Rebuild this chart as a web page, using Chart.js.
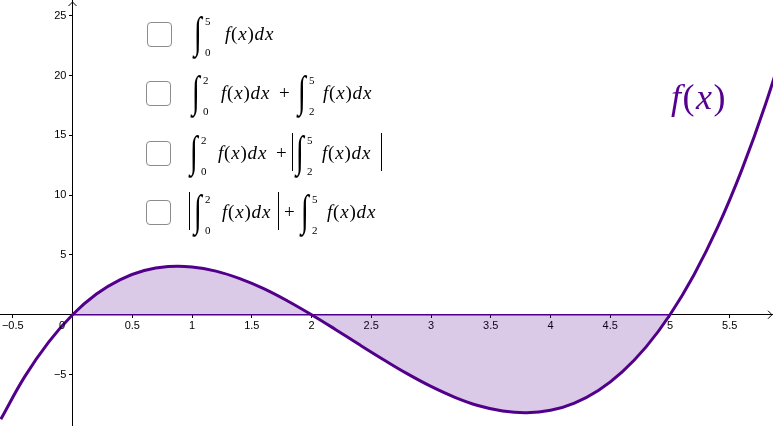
<!DOCTYPE html>
<html><head><meta charset="utf-8">
<script src="https://cdn.jsdelivr.net/npm/chart.js@4/dist/chart.umd.min.js"></script>
<style>
html,body{margin:0;padding:0;background:#fff;}
#wrap{position:relative;width:773px;height:426px;overflow:hidden;}
canvas{position:absolute;left:0;top:0;}
.cb{position:absolute;width:23px;height:23px;border:1.5px solid #8c8c8c;border-radius:4px;background:#fff;box-sizing:content-box;}
.p{position:absolute;font-family:"Liberation Serif",serif;color:#000;white-space:nowrap;line-height:1;}
.txt{font-size:19px;letter-spacing:0.8px;}
.int{font-size:30px;transform:scale(0.95,1.45);transform-origin:left center;font-style:italic;}
.lim{font-size:11px;}
.bar{position:absolute;width:0;border-left:1px solid #000;height:38px;}
.zero{position:absolute;font:11px "Liberation Sans",sans-serif;color:#000;}
.fx{position:absolute;font-family:"Liberation Serif",serif;font-size:36px;letter-spacing:1.5px;color:#55008f;white-space:nowrap;}
</style></head>
<body>
<div id="wrap">
<canvas id="c" width="773" height="426"></canvas>
<div class="zero" style="left:59px;top:319px;">0</div>
<div class="fx" style="left:671px;top:76px;"><i>f</i>(<i>x</i>)</div>
</div>
<script>
const xValues = [-0.6, -0.4, -0.2, 0, 0.2, 0.4, 0.6, 0.8, 1.0, 1.2, 1.4, 1.6, 1.8, 2.0, 2.2, 2.4, 2.6, 2.8, 3.0, 3.2, 3.4, 3.6, 3.8, 4.0, 4.2, 4.4, 4.6, 4.8, 5.0, 5.2, 5.4, 5.6, 5.8, 6.0];
const fValues = [-8.74, -5.18, -2.29, 0, 1.73, 2.94, 3.70, 4.03, 4.0, 3.65, 3.02, 2.18, 1.15, 0, -1.23, -2.50, -3.74, -4.93, -6.0, -6.91, -7.62, -8.06, -8.21, -8.0, -7.39, -6.34, -4.78, -2.69, 0, 3.33, 7.34, 12.10, 17.63, 24.0];
const shadeFrom = 0, shadeTo = 5;
const xTickStep = 0.5, yTickStep = 5;
const xRange = [-0.607, 5.862];
const yRange = [-9.31, 26.33];

const curveColor = 'rgb(82,0,140)';
const shadeColor = 'rgba(82,0,140,0.21)';

const curvePts = xValues.map((x, i) => ({x, y: fValues[i]}));
const shadePts = curvePts.filter(p => p.x >= shadeFrom && p.x <= shadeTo);
const basePts = [{x: shadeFrom, y: 0}, {x: shadeTo, y: 0}];

const fmt = v => {
  if (Math.abs(v) < 1e-9) return '';
  const s = String(Math.round(v * 100) / 100);
  return v < 0 ? '\u2212' + s.slice(1) : s;
};

const arrows = {
  id: 'arrows',
  afterDraw(chart) {
    const {ctx, scales: {x, y}} = chart;
    const x0 = x.getPixelForValue(0), y0 = y.getPixelForValue(0);
    ctx.save();
    ctx.strokeStyle = '#000'; ctx.lineWidth = 1;
    ctx.beginPath();
    ctx.moveTo(x.right - 5, y0 - 4); ctx.lineTo(x.right - 1, y0); ctx.lineTo(x.right - 5, y0 + 4);
    ctx.moveTo(x0 - 4, y.top + 6); ctx.lineTo(x0, y.top + 2); ctx.lineTo(x0 + 4, y.top + 6);
    ctx.stroke();
    ctx.restore();
  }
};

const noPad = scale => { scale.paddingTop = 0; scale.paddingBottom = 0; scale.paddingLeft = 0; scale.paddingRight = 0; };

new Chart(document.getElementById('c'), {
  type: 'scatter',
  data: {
    datasets: [
      {data: shadePts, showLine: true, fill: 'origin', backgroundColor: shadeColor, borderWidth: 0, pointRadius: 0, tension: 0.4, order: 3},
      {data: basePts, showLine: true, borderColor: curveColor, borderWidth: 1.5, pointRadius: 0, order: 2},
      {data: curvePts, showLine: true, borderColor: curveColor, borderWidth: 3, pointRadius: 0, tension: 0.4, order: 1}
    ]
  },
  options: {
    responsive: false, animation: false,
    layout: {padding: 0},
    plugins: {legend: {display: false}, tooltip: {enabled: false}},
    scales: {
      x: {
        type: 'linear', min: xRange[0], max: xRange[1], position: {y: 0},
        afterFit: noPad,
        border: {color: '#000', width: 1},
        grid: {drawOnChartArea: false, drawTicks: true, tickLength: 3, color: '#000'},
        ticks: {stepSize: xTickStep, includeBounds: false, autoSkip: false, maxRotation: 0, padding: 2, color: '#000', font: {family: 'Liberation Sans', size: 11}, callback: fmt}
      },
      y: {
        type: 'linear', min: yRange[0], max: yRange[1], position: {x: 0},
        afterFit: noPad,
        border: {color: '#000', width: 1},
        grid: {drawOnChartArea: false, drawTicks: true, tickLength: 3, color: '#000'},
        ticks: {stepSize: yTickStep, includeBounds: false, autoSkip: false, padding: 2, color: '#000', font: {family: 'Liberation Sans', size: 11}, callback: v => { const s = fmt(v); return s ? s + '  ' : s; }}
      }
    }
  },
  plugins: [arrows]
});

// Checkbox labels (formulas)
const rows = [
  {cy: 34, cb: 147, items: [{t:'int', x:194, up:'5', lo:'0'}, {t:'txt', x:225}]},
  {cy: 93, cb: 146, items: [{t:'int', x:192, up:'2', lo:'0'}, {t:'txt', x:221}, {t:'plus', x:279}, {t:'int', x:298, up:'5', lo:'2'}, {t:'txt', x:323}]},
  {cy: 153, cb: 146, items: [{t:'int', x:190, up:'2', lo:'0'}, {t:'txt', x:218}, {t:'plus', x:276}, {t:'bar', x:292}, {t:'int', x:296, up:'5', lo:'2'}, {t:'txt', x:322}, {t:'bar', x:381}]},
  {cy: 212, cb: 146, items: [{t:'bar', x:189}, {t:'int', x:194, up:'2', lo:'0'}, {t:'txt', x:222}, {t:'bar', x:278}, {t:'plus', x:284}, {t:'int', x:301, up:'5', lo:'2'}, {t:'txt', x:327}]}
];
const wrap = document.getElementById('wrap');
const add = (cls, html, left, top) => {
  const d = document.createElement('div');
  d.className = cls; d.innerHTML = html;
  d.style.left = left + 'px'; d.style.top = top + 'px';
  wrap.appendChild(d); return d;
};
rows.forEach(r => {
  add('cb', '', r.cb, r.cy - 12);
  r.items.forEach(it => {
    if (it.t === 'int') {
      add('p int', '\u222B', it.x, r.cy - 17);
      add('p lim', it.up, it.x + 11, r.cy - 18);
      add('p lim', it.lo, it.x + 11, r.cy + 13);
    } else if (it.t === 'txt') {
      add('p txt', '<i>f</i>(<i>x</i>)<i>dx</i>', it.x, r.cy - 10);
    } else if (it.t === 'plus') {
      add('p txt', '+', it.x, r.cy - 10);
    } else if (it.t === 'bar') {
      add('bar', '', it.x, r.cy - 20);
    }
  });
});
</script>
</body></html>
